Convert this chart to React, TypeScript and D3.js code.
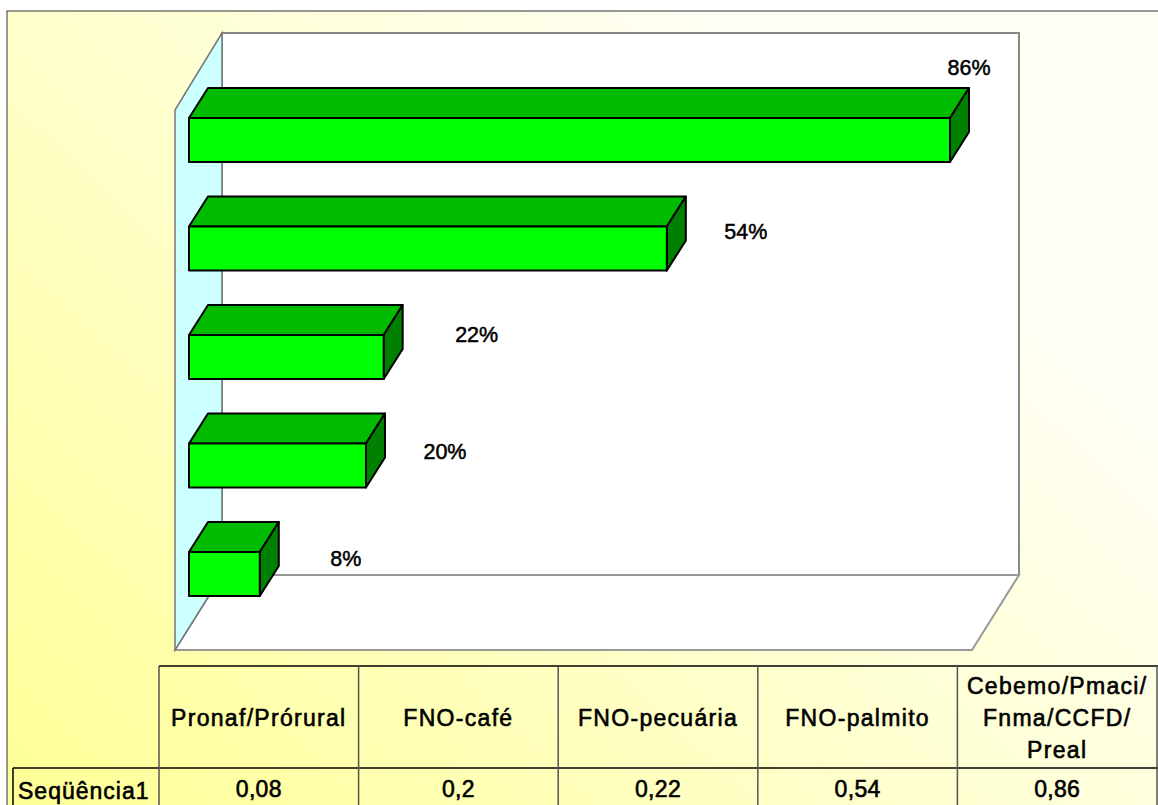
import * as d3 from "d3";

const categories = ["Pronaf/Prórural", "FNO-café", "FNO-pecuária", "FNO-palmito", "Cebemo/Pmaci/Fnma/CCFD/Preal"];
const values = [0.08, 0.2, 0.22, 0.54, 0.86];
const tableValues = ["0,08", "0,2", "0,22", "0,54", "0,86"];
const headerLines = [["Pronaf/Prórural"], ["FNO-café"], ["FNO-pecuária"], ["FNO-palmito"], ["Cebemo/Pmaci/", "Fnma/CCFD/", "Preal"]];
const seriesName = "Seqüência1";

const FONT = "'Liberation Sans', Arial, sans-serif";

// wall and floor of the 3d box
const wall = { left: 222, right: 1019, top: 33, bottom: 575 };
const floorDx = 47;
const floorDy = 75;
const barDx = 19;
const barDy = 30;

// label offsets from the bar end, excel had them dragged around by hand
const labelDx = [86, 79, 93, 79, 19];
const labelDy = [-15, -13, -22, -16, -72];

export default function App() {
  const x = d3.scaleLinear().domain([0, 0.86]).range([189, 950]);
  const y = d3.scaleBand<string>()
    .domain([...categories].reverse())
    .range([118, 596])
    .paddingInner(0.594);
  const tableX = d3.scaleBand<string>().domain(categories).range([159, 1157]);

  const pts = (p: number[][]) => p.map(d => d.join(",")).join(" ");

  return (
    <svg width={1158} height={805} style={{ position: "fixed", left: 0, top: 0 }} fontFamily={FONT}>
      <defs>
        <linearGradient id="bg" gradientUnits="userSpaceOnUse" x1={60} y1={805} x2={760} y2={60}>
          <stop offset="0" stopColor="#ffff99" />
          <stop offset="0.5" stopColor="#ffffc8" />
          <stop offset="1" stopColor="#fffef4" />
        </linearGradient>
      </defs>
      <rect width={1158} height={805} fill="#fff" />
      <rect x={7} y={11} width={1160} height={810} fill="url(#bg)" stroke="#333" strokeWidth={1} />

      {/* walls */}
      <polygon
        points={pts([[wall.left, wall.top], [wall.right, wall.top], [wall.right, wall.bottom], [wall.left, wall.bottom]])}
        fill="#fff" stroke="#888" strokeWidth={2}
      />
      <polygon
        points={pts([[wall.left, wall.bottom], [wall.right, wall.bottom], [wall.right - floorDx, wall.bottom + floorDy], [wall.left - floorDx, wall.bottom + floorDy]])}
        fill="#fff" stroke="#999" strokeWidth={2}
      />
      <polygon
        points={pts([[wall.left, wall.top], [wall.left, wall.bottom], [wall.left - floorDx, wall.bottom + floorDy], [wall.left - floorDx, wall.top + floorDy + 2]])}
        fill="#ccffff" stroke="#777" strokeWidth={1.5}
      />

      {/* bars */}
      {categories.map((c, i) => {
        const x0 = x(0);
        const x1 = x(values[i]);
        const y0 = y(c)!;
        const y1 = y0 + y.bandwidth();
        return (
          <g key={c} stroke="#000" strokeWidth={2} strokeLinejoin="round">
            <polygon fill="#00bb00" points={pts([[x0, y0], [x0 + barDx, y0 - barDy], [x1 + barDx, y0 - barDy], [x1, y0]])} />
            <polygon fill="#008000" points={pts([[x1, y0], [x1 + barDx, y0 - barDy], [x1 + barDx, y1 - barDy], [x1, y1]])} />
            <rect x={x0} y={y0} width={x1 - x0} height={y1 - y0} fill="#00ff00" />
          </g>
        );
      })}

      {/* data labels */}
      {categories.map((c, i) => (
        <text key={c} x={x(values[i]) + labelDx[i]} y={y(c)! + labelDy[i] + 22} textAnchor="middle" fontSize={21.5} dominantBaseline="central" fill="#000" stroke="#000" strokeWidth={0.5}>
          {d3.format(".0%")(values[i])}
        </text>
      ))}

      {/* data table */}
      <g stroke="#555" strokeWidth={1.5} fill="none">
        <line x1={159} x2={1158} y1={666} y2={666} stroke="#000" />
        <line x1={13} x2={1158} y1={768} y2={768} stroke="#000" />
        <line x1={13} x2={13} y1={768} y2={805} stroke="#000" />
        {categories.map(c => (
          <line key={c} x1={tableX(c)} x2={tableX(c)} y1={666} y2={805} />
        ))}
        <line x1={1157} x2={1157} y1={666} y2={805} />
      </g>
      <g fontSize={23} fill="#000" textAnchor="middle" stroke="#000" strokeWidth={0.6}>
        {categories.map((c, i) => {
          const cx = tableX(c)! + tableX.bandwidth() / 2;
          const lines = headerLines[i];
          return (
            <g key={c}>
              {lines.map((l, j) => (
                <text key={l} letterSpacing={1.3} x={cx} y={718 + (j - (lines.length - 1) / 2) * 32} dominantBaseline="central">{l}</text>
              ))}
              <text x={cx} y={789} letterSpacing={0.3} dominantBaseline="central">{tableValues[i]}</text>
            </g>
          );
        })}
        <text x={18} y={791} letterSpacing={1} textAnchor="start" dominantBaseline="central">{seriesName}</text>
      </g>
    </svg>
  );
}
